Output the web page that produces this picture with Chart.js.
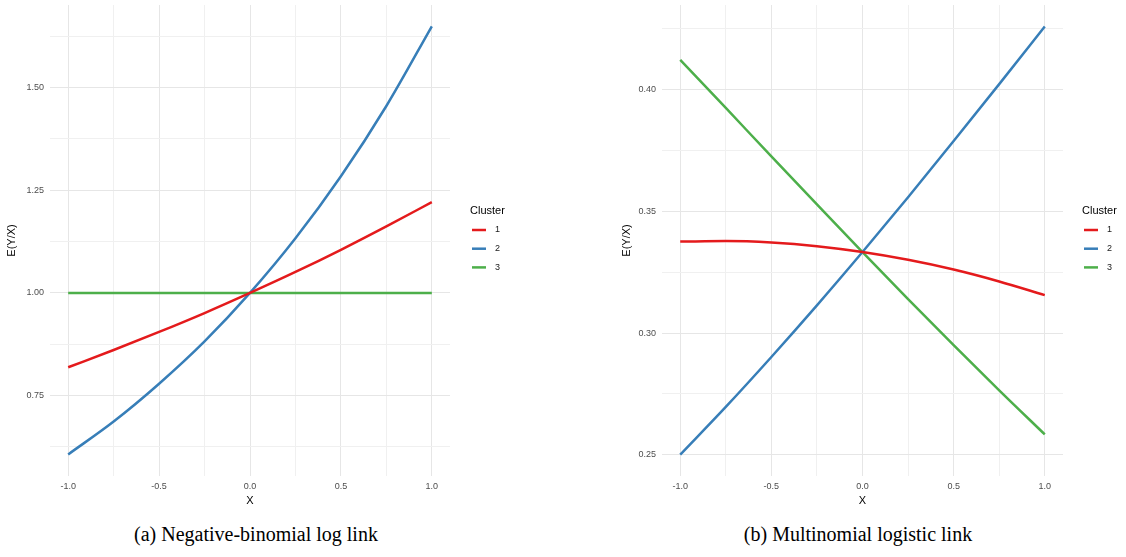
<!DOCTYPE html>
<html>
<head>
<meta charset="utf-8">
<script src="https://cdn.jsdelivr.net/npm/chart.js@4.4.1/dist/chart.umd.min.js"></script>
<style>
  body { margin: 0; background: #fff; width: 1126px; height: 557px; position: relative; overflow: hidden; }
  .box { position: absolute; top: 0; height: 512px; }
  .caption { position: absolute; top: 523px; font-family: "Liberation Serif", "Times New Roman", serif; font-size: 20px; color: #000; text-align: center; width: 400px; }
</style>
</head>
<body>
<div class="box" style="left:0;width:540px"><canvas id="nbChart"></canvas></div>
<div class="box" style="left:600px;width:526px"><canvas id="mlChart"></canvas></div>
<div class="caption" style="left:56px">(a) Negative-binomial log link</div>
<div class="caption" style="left:658px">(b) Multinomial logistic link</div>
<script>
// x grid (major + minor) and the x values the curves are read at
const xValues = [-1, -0.75, -0.5, -0.25, 0, 0.25, 0.5, 0.75, 1];
const xTicks = [-1, -0.75, -0.5, -0.25, 0, 0.25, 0.5, 0.75, 1];
const xTickLabels = ['-1.0', '', '-0.5', '', '0.0', '', '0.5', '', '1.0'];

const clusters = ['1', '2', '3'];
const clusterColors = ['#e41a1c', '#377eb8', '#4daf4a'];

// (a) Negative-binomial log link
const nbCluster1 = [0.819, 0.861, 0.905, 0.951, 1.000, 1.051, 1.105, 1.162, 1.221];
const nbCluster2 = [0.607, 0.687, 0.779, 0.882, 1.000, 1.133, 1.284, 1.455, 1.649];
const nbCluster3 = [1.000, 1.000, 1.000, 1.000, 1.000, 1.000, 1.000, 1.000, 1.000];
const nbYTicks = [0.625, 0.75, 0.875, 1.0, 1.125, 1.25, 1.375, 1.5, 1.625];
const nbYTickLabels = ['', '0.75', '', '1.00', '', '1.25', '', '1.50', ''];

// (b) Multinomial logistic link
const mlCluster1 = [0.3376, 0.3378, 0.3372, 0.3357, 0.3333, 0.3301, 0.3261, 0.3212, 0.3156];
const mlCluster2 = [0.2501, 0.2697, 0.2902, 0.3114, 0.3333, 0.3558, 0.3789, 0.4023, 0.4260];
const mlCluster3 = [0.4123, 0.3925, 0.3726, 0.3529, 0.3333, 0.3140, 0.2951, 0.2765, 0.2584];
const mlYTicks = [0.25, 0.275, 0.3, 0.325, 0.35, 0.375, 0.4, 0.425];
const mlYTickLabels = ['0.25', '', '0.30', '', '0.35', '', '0.40', ''];

const sans = '"Liberation Sans", Arial, sans-serif';

const clusterLegend = {
    id: 'clusterLegend',
    afterDraw(chart, args, opts) {
        const c = chart.ctx;
        c.save();
        c.fillStyle = '#000';
        c.font = '11px ' + sans;
        c.textBaseline = 'middle';
        c.textAlign = 'left';
        c.fillText('Cluster', opts.x, 211);
        chart.data.datasets.forEach((ds, i) => {
            const y = 230 + i * 18.7;
            c.strokeStyle = ds.borderColor;
            c.lineWidth = 2.5;
            c.beginPath();
            c.moveTo(opts.x + 2, y);
            c.lineTo(opts.x + 16, y);
            c.stroke();
            c.fillStyle = '#1a1a1a';
            c.font = '9px ' + sans;
            c.fillText(ds.label, opts.x + 25, y);
        });
        c.restore();
    }
};

function makeChart(id, series, yMin, yMax, yTicks, yTickLabels, opt) {
    const datasets = series.map((vals, i) => ({
        label: clusters[i],
        data: vals.map((v, j) => ({ x: xValues[j], y: v })),
        borderColor: clusterColors[i],
        borderWidth: 2.5,
        pointRadius: 0,
        cubicInterpolationMode: 'monotone',
        fill: false
    }));
    const isMajor = (labels, ticks, v) => labels[ticks.indexOf(v)] !== '';
    return new Chart(document.getElementById(id), {
        type: 'line',
        data: { datasets },
        plugins: [clusterLegend],
        options: {
            responsive: true,
            maintainAspectRatio: false,
            animation: false,
            layout: { padding: { top: 5, right: opt.padRight, left: 0, bottom: 0 } },
            plugins: {
                legend: { display: false },
                tooltip: { enabled: false },
                clusterLegend: { x: opt.legendX }
            },
            scales: {
                x: {
                    type: 'linear',
                    min: -1.1,
                    max: 1.1,
                    afterBuildTicks: (s) => { s.ticks = xTicks.map(v => ({ value: v })); },
                    afterFit: (s) => { s.height = 36; s.paddingLeft = 0; s.paddingRight = 0; },
                    border: { display: false },
                    grid: {
                        drawTicks: false,
                        color: (c) => isMajor(xTickLabels, xTicks, c.tick.value) ? '#e6e6e6' : '#f0f0f0',
                        lineWidth: 1
                    },
                    ticks: {
                        autoSkip: false,
                        maxRotation: 0,
                        padding: 5,
                        color: '#4d4d4d',
                        font: { family: sans, size: 9 },
                        callback: (v, i) => xTickLabels[i]
                    },
                    title: {
                        display: true,
                        text: 'X',
                        color: '#000',
                        font: { family: sans, size: 11 },
                        padding: { top: 0, bottom: 4 }
                    }
                },
                y: {
                    min: yMin,
                    max: yMax,
                    afterBuildTicks: (s) => { s.ticks = yTicks.map(v => ({ value: v })); },
                    afterFit: (s) => { s.width = opt.yWidth; s.paddingTop = 0; s.paddingBottom = 0; },
                    border: { display: false },
                    grid: {
                        drawTicks: false,
                        color: (c) => isMajor(yTickLabels, yTicks, c.tick.value) ? '#e6e6e6' : '#f0f0f0',
                        lineWidth: 1
                    },
                    ticks: {
                        autoSkip: false,
                        padding: 6,
                        color: '#4d4d4d',
                        font: { family: sans, size: 9 },
                        callback: (v, i) => yTickLabels[i]
                    },
                    title: {
                        display: true,
                        text: 'E(Y/X)',
                        color: '#000',
                        font: { family: sans, size: 11 },
                        padding: { top: opt.titlePad, bottom: 0 }
                    }
                }
            }
        }
    });
}

makeChart('nbChart', [nbCluster1, nbCluster2, nbCluster3], 0.5544, 1.7008, nbYTicks, nbYTickLabels,
    { padRight: 90, yWidth: 50, titlePad: 5, legendX: 470 });
makeChart('mlChart', [mlCluster1, mlCluster2, mlCluster3], 0.2413, 0.4348, mlYTicks, mlYTickLabels,
    { padRight: 63, yWidth: 62, titlePad: 20, legendX: 482 });
</script>
</body>
</html>
